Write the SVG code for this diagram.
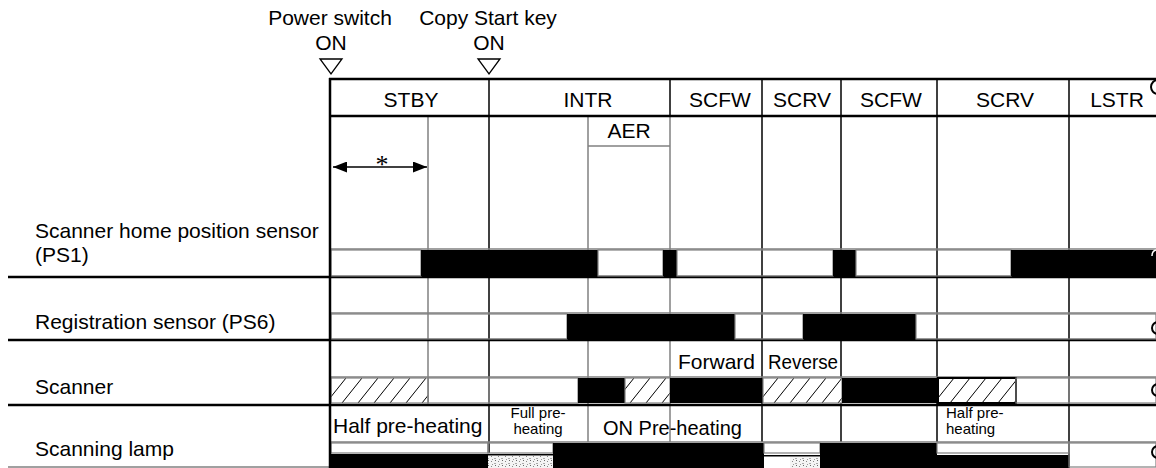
<svg xmlns="http://www.w3.org/2000/svg" width="1156" height="468" viewBox="0 0 1156 468">
<defs>
<style>
text{font-family:"Liberation Sans",Arial,sans-serif;font-size:21px;fill:#000}
.c{text-anchor:middle}
.s{font-size:15px}
.thick{stroke:#000;stroke-width:2.5;fill:none}
.gl{stroke:#808080;stroke-width:1.5;fill:none}
.bl{stroke:#000;stroke-width:1.5;fill:none}
.on{fill:#000}
.off{fill:none;stroke:#808080;stroke-width:1.2}
.hat{fill:url(#hatch);stroke:#808080;stroke-width:1.2}
.hatk{fill:url(#hatch);stroke:#000;stroke-width:2}
.dot{fill:url(#speck)}
.curl{fill:none;stroke:#000;stroke-width:2}
.tri{fill:#fff;stroke:#000;stroke-width:1.3}
</style>
<pattern id="hatch" patternUnits="userSpaceOnUse" x="330" y="378" width="16" height="25">
<rect width="16" height="25" fill="#fff"/>
<line x1="-4" y1="25" x2="16" y2="0" stroke="#000" stroke-width="1"/>
<line x1="12" y1="25" x2="32" y2="0" stroke="#000" stroke-width="1"/>
</pattern>
<pattern id="speck" patternUnits="userSpaceOnUse" x="0" y="0" width="7" height="5">
<rect width="7" height="5" fill="#f4f4f4"/>
<rect x="1" y="1" width="1" height="1" fill="#888"/>
<rect x="4" y="3" width="2" height="1" fill="#aaa"/>
<rect x="5" y="0" width="1" height="1" fill="#666"/>
<rect x="2" y="4" width="1" height="1" fill="#999"/>
</pattern>
<marker id="ah" viewBox="0 0 14 11" refX="14" refY="5.5" markerWidth="14" markerHeight="11" markerUnits="userSpaceOnUse" orient="auto-start-reverse">
<path d="M0,0 L14,5.5 L0,11 Z" fill="#000"/>
</marker>
</defs>
<rect width="1156" height="468" fill="#fff"/>

<g id="events">
<text class="c" x="330" y="25">Power switch</text>
<text class="c" x="331" y="50">ON</text>
<polygon class="tri" points="320,59 342,59 331,74"/>
<text class="c" x="488" y="25">Copy Start key</text>
<text class="c" x="489" y="50">ON</text>
<polygon class="tri" points="478,59 500,59 489,74"/>
</g>

<g id="grid">
<line class="gl" x1="428" y1="116" x2="428" y2="405"/>
<line class="bl" x1="489" y1="116" x2="489" y2="453"/>
<line class="gl" x1="588" y1="116" x2="588" y2="442"/>
<line class="gl" x1="670" y1="116" x2="670" y2="442"/>
<line class="bl" x1="762" y1="116" x2="762" y2="442"/>
<line class="bl" x1="841" y1="116" x2="841" y2="442"/>
<line class="bl" x1="937" y1="116" x2="937" y2="442"/>
<line class="bl" x1="1069" y1="116" x2="1069" y2="468"/>
<line class="gl" x1="588" y1="146" x2="670" y2="146"/>
<line class="gl" x1="330" y1="249" x2="1156" y2="249"/>
<line class="gl" x1="330" y1="313" x2="1156" y2="313"/>
<line class="gl" x1="330" y1="377" x2="1156" y2="377"/>
<line class="gl" x1="330" y1="442" x2="1156" y2="442"/>
<line class="thick" x1="8" y1="277" x2="1156" y2="277"/>
<line class="thick" x1="8" y1="340" x2="1156" y2="340"/>
<line class="thick" x1="8" y1="405" x2="1156" y2="405"/>
<line class="gl" x1="8" y1="467" x2="330" y2="467"/>
</g>

<g id="header">
<line class="thick" x1="329" y1="79" x2="1156" y2="79"/>
<line class="thick" x1="329" y1="116" x2="1156" y2="116"/>
<line class="bl" x1="489" y1="79" x2="489" y2="116"/>
<line class="bl" x1="670" y1="79" x2="670" y2="116"/>
<line class="bl" x1="762" y1="79" x2="762" y2="116"/>
<line class="bl" x1="841" y1="79" x2="841" y2="116"/>
<line class="bl" x1="937" y1="79" x2="937" y2="116"/>
<line class="bl" x1="1069" y1="79" x2="1069" y2="116"/>
<text class="c" x="411" y="107">STBY</text>
<text class="c" x="588" y="107">INTR</text>
<text class="c" x="720" y="107">SCFW</text>
<text class="c" x="802" y="107">SCRV</text>
<text class="c" x="891" y="107">SCFW</text>
<text class="c" x="1005" y="107">SCRV</text>
<text class="c" x="1117" y="107">LSTR</text>
<text class="c" x="629" y="138">AER</text>
<circle class="curl" cx="1158" cy="87" r="7"/>
</g>

<g id="connectors">
<line x1="333" y1="167" x2="427" y2="167" stroke="#000" stroke-width="1.5" marker-start="url(#ah)" marker-end="url(#ah)"/>
<text x="382" y="173" text-anchor="middle" style="font-family:'Liberation Serif',serif;font-size:26px">*</text>
</g>

<g id="row-ps1">
<text x="35" y="238">Scanner home position sensor</text>
<text x="35" y="262">(PS1)</text>
<rect class="off" x="331" y="250" width="90" height="26"/>
<rect class="on" x="421" y="250" width="177" height="26"/>
<rect class="off" x="598" y="250" width="65" height="26"/>
<rect class="on" x="663" y="250" width="14" height="26"/>
<rect class="off" x="677" y="250" width="156" height="26"/>
<rect class="on" x="833" y="250" width="23" height="26"/>
<rect class="off" x="856" y="250" width="155" height="26"/>
<rect class="on" x="1011" y="250" width="145" height="26"/>
<path d="M1156,250 Q1152,251 1152,256" fill="none" stroke="#fff" stroke-width="1.5"/>
</g>

<g id="row-ps6">
<text x="35" y="329">Registration sensor (PS6)</text>
<rect class="off" x="331" y="314" width="236" height="25"/>
<rect class="on" x="567" y="314" width="168" height="25"/>
<rect class="off" x="735" y="314" width="68" height="25"/>
<rect class="on" x="803" y="314" width="113" height="25"/>
<rect class="off" x="916" y="314" width="240" height="25"/>
<circle class="curl" cx="1158" cy="328" r="6"/>
</g>

<g id="row-scanner">
<text x="35" y="394">Scanner</text>
<text x="678" y="369">Forward</text>
<text x="768" y="369" textLength="70" lengthAdjust="spacingAndGlyphs">Reverse</text>
<rect class="hat" x="331" y="378" width="97" height="25"/>
<rect class="off" x="428" y="378" width="61" height="25"/>
<rect class="off" x="489" y="378" width="89" height="25"/>
<rect class="on" x="578" y="378" width="47" height="25"/>
<rect class="hat" x="625" y="378" width="45" height="25"/>
<rect class="on" x="670" y="378" width="93" height="25"/>
<rect class="hat" x="763" y="378" width="79" height="25"/>
<rect class="on" x="842" y="378" width="95" height="25"/>
<rect class="hatk" x="938" y="378" width="78" height="25"/>
<rect class="off" x="1016" y="378" width="53" height="25"/>
<rect class="off" x="1069" y="378" width="87" height="25"/>
<circle class="curl" cx="1158" cy="390" r="6"/>
</g>

<g id="row-lamp">
<text x="35" y="456">Scanning lamp</text>
<text x="333" y="433">Half pre-heating</text>
<text class="c s" x="538" y="418">Full pre-</text>
<text class="c s" x="538" y="434">heating</text>
<text x="603" y="435" style="font-size:20px">ON Pre-heating</text>
<text class="s" x="946" y="418">Half pre-</text>
<text class="s" x="946" y="434">heating</text>
<rect class="off" x="331" y="443" width="157" height="10"/>
<rect class="on" x="331" y="454" width="157" height="14"/>
<rect class="off" x="488" y="443" width="65" height="10"/>
<rect class="on" x="488" y="454" width="65" height="1.5"/>
<rect class="dot" x="488" y="456" width="65" height="12"/>
<rect class="on" x="553" y="443" width="211" height="25"/>
<rect class="off" x="764" y="443" width="56" height="10"/>
<rect class="on" x="764" y="455" width="56" height="1.5"/>
<rect class="dot" x="790" y="457" width="30" height="11"/>
<rect class="on" x="820" y="443" width="117" height="25"/>
<rect class="off" x="937" y="443" width="132" height="10"/>
<rect class="on" x="937" y="455" width="132" height="13"/>
<rect class="off" x="1069" y="443" width="87" height="24"/>
<circle class="curl" cx="1158" cy="452" r="6"/>
</g>

<line class="thick" x1="330" y1="78" x2="330" y2="468"/>
</svg>
